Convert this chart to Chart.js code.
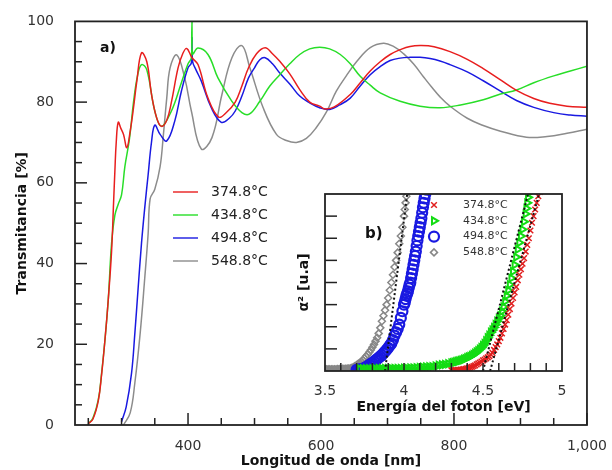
<!DOCTYPE html>
<html>
<head>
<meta charset="utf-8">
<script src="https://cdn.jsdelivr.net/npm/chart.js@4.4.0/dist/chart.umd.min.js"></script>
<style>
  body { margin: 0; background: #fff; }
  #wrap { position: relative; width: 612px; height: 470px; }
  #main { position: absolute; left: 0; top: 0; }
  #inset { position: absolute; left: 296px; top: 186px; }
</style>
</head>
<body>
<div id="wrap">
  <canvas id="main" width="612" height="470"></canvas>
  <canvas id="inset" width="276" height="230"></canvas>
</div>
<script>
// series names
var labels = ["374.8°C", "434.8°C", "494.8°C", "548.8°C"];

// a) transmittance spectra, wavelength [nm] and T [%]
var red_nm = [250,257,265,270,275,280,285,288,290,292,295,299,303,308,313,318,323,330,338,345,353,360,368,375,385,392,398,406,415,430,446,458,471,481,491,503,516,527,538,553,568,583,598,606,620,644,660,674,689,704,719,734,751,770,794,820,844,870,894,920,944,970,1000];
var red_T  = [0.3,1.5,6,12.5,21,31,43,55,63,70,75,73.5,72,68.7,72.8,78.6,85.2,92.2,90,82,76,74,75.5,80,88.5,92,93.3,91,89.3,81,76.3,77.5,80,84,88.5,92,93.5,92,90.1,87,83.1,80,79,78.3,78.8,81.9,85,87.7,90,91.8,93,93.8,94,93.7,92.5,90.6,88.3,85.5,82.9,80.9,79.7,79,78.7];

var green_nm = [250,257,265,270,275,280,285,290,295,300,305,312,318,324,330,338,350,360,375,390,400,405,406,407,415,430,445,466,481,492,508,523,538,553,568,583,598,613,629,644,659,674,689,719,749,779,810,844,870,894,920,950,975,1000];
var green_T  = [0.3,1.7,6.2,12.8,21,31,45,52,54.7,57,64,71,80,86.5,89.3,88,77.8,74,77.8,84.8,89.5,91,100,92,93.4,91.8,86,80.2,77.4,77,80.2,84,86.8,89.5,91.8,93.2,93.6,93.2,91.8,89.5,86.4,84.2,82.3,80.2,79,78.6,79.3,80.6,82,83,84.8,86.5,87.7,88.9];

var blue_nm = [300,307,315,320,325,330,335,340,345,350,358,368,380,390,400,405,406,407,412,420,435,450,462,471,481,491,500,508,516,527,538,553,568,583,598,613,628,644,659,674,689,704,719,734,749,764,779,794,820,844,870,894,920,950,975,1000];
var blue_T  = [0.8,4.5,12.8,22.7,34,45,54,62,70,74.3,72,70.4,75.3,82.7,88.5,89.7,96,90,88,85.2,78.6,75,76,77.8,81.5,86,88.5,90.5,91,89.5,87.2,84.5,81.5,79.8,78.6,78.2,79.3,81,84,86.8,88.8,90.3,90.9,91.1,91.1,90.8,90.2,89.3,87.5,85.3,82.7,80.4,78.7,77.4,76.8,76.5];

var gray_nm = [303,313,320,328,335,340,343,350,358,363,368,373,383,395,405,420,436,451,466,481,493,513,533,548,563,578,593,608,623,638,654,674,694,709,724,739,754,767,779,794,820,844,870,909,940,970,1000];
var gray_T  = [0,3,10.4,22.7,36.6,47.4,56,58.4,64,72,81,88.5,91.7,86,77.8,68.4,71.2,81.9,91,94,88.5,78.6,72,70.5,70,71,73.7,77.5,82.7,86.5,90.1,93.5,94.6,93.8,92,89.5,86.3,83.6,81.3,79,76,74.2,72.8,71.3,71.5,72.3,73.3];

var x_labels = [400, 600, 800, 1000];

// b) alpha^2 vs photon energy [eV]
var red_E = [4.30,4.31,4.32,4.33,4.34,4.35,4.36,4.37,4.38,4.39,4.40,4.41,4.42,4.43,4.44,4.45,4.46,4.47,4.48,4.49,4.50,4.51,4.52,4.53,4.54,4.55,4.56,4.57,4.58,4.59,4.60,4.61,4.62,4.63,4.64,4.65,4.66,4.67,4.68,4.69,4.70,4.71,4.72,4.73,4.74,4.75,4.76,4.77,4.78,4.79,4.80,4.81,4.82,4.83,4.84,4.85,4.86,4.87];
var red_A = [0.03,0.03,0.04,0.04,0.05,0.05,0.06,0.07,0.08,0.1,0.12,0.14,0.16,0.19,0.22,0.25,0.3,0.34,0.38,0.43,0.48,0.52,0.57,0.62,0.67,0.74,0.82,0.95,1.08,1.2,1.35,1.5,1.7,1.9,2.1,2.3,2.55,2.8,3.05,3.3,3.55,3.8,4.1,4.35,4.6,4.85,5.1,5.4,5.7,6.0,6.35,6.7,7.0,7.3,7.6,7.9,8.1,8.3];

var green_E = [3.72,3.74,3.76,3.78,3.80,3.82,3.84,3.86,3.88,3.90,3.92,3.94,3.96,3.98,4.00,4.02,4.04,4.06,4.08,4.10,4.12,4.14,4.16,4.18,4.20,4.22,4.24,4.26,4.28,4.30,4.31,4.32,4.33,4.34,4.35,4.36,4.37,4.38,4.39,4.40,4.41,4.42,4.43,4.44,4.45,4.46,4.47,4.48,4.49,4.50,4.51,4.52,4.53,4.54,4.55,4.56,4.57,4.58,4.59,4.60,4.61,4.62,4.63,4.64,4.65,4.66,4.67,4.68,4.69,4.70,4.71,4.72,4.73,4.74,4.75,4.76,4.77,4.775,4.78,4.785,4.79,4.795];
var green_A = [0.1,0.1,0.1,0.1,0.1,0.1,0.11,0.11,0.11,0.11,0.12,0.12,0.12,0.12,0.13,0.13,0.14,0.14,0.15,0.16,0.17,0.18,0.19,0.2,0.23,0.26,0.28,0.3,0.33,0.36,0.38,0.4,0.42,0.44,0.46,0.48,0.5,0.53,0.56,0.6,0.63,0.66,0.7,0.75,0.8,0.86,0.92,0.99,1.06,1.15,1.25,1.37,1.5,1.62,1.75,1.85,1.97,2.1,2.25,2.38,2.5,2.7,2.9,3.15,3.4,3.65,3.9,4.2,4.5,4.8,5.15,5.5,5.8,6.1,6.4,6.75,7.1,7.35,7.6,7.85,8.05,8.25];

var blue_E = [3.70,3.71,3.72,3.73,3.74,3.75,3.76,3.77,3.78,3.79,3.80,3.81,3.82,3.83,3.84,3.85,3.86,3.87,3.88,3.89,3.90,3.91,3.92,3.93,3.94,3.95,3.96,3.97,3.98,3.99,4.00,4.005,4.01,4.015,4.02,4.025,4.03,4.035,4.04,4.045,4.05,4.055,4.06,4.065,4.07,4.075,4.08,4.085,4.09,4.095,4.10,4.105,4.11,4.115,4.12,4.125,4.13,4.135,4.14];
var blue_A = [0.05,0.06,0.07,0.08,0.1,0.14,0.18,0.22,0.27,0.32,0.37,0.42,0.48,0.54,0.6,0.66,0.72,0.8,0.88,0.96,1.05,1.15,1.25,1.4,1.6,1.75,1.9,2.1,2.4,2.7,3.0,3.1,3.25,3.4,3.5,3.6,3.75,3.9,4.0,4.2,4.4,4.6,4.8,5.0,5.2,5.4,5.65,5.9,6.1,6.3,6.5,6.7,6.9,7.15,7.4,7.6,7.8,8.0,8.2];

var gray_E = [3.50,3.51,3.52,3.53,3.54,3.55,3.56,3.57,3.58,3.59,3.60,3.61,3.62,3.63,3.64,3.65,3.66,3.67,3.68,3.69,3.70,3.71,3.72,3.73,3.74,3.75,3.76,3.77,3.78,3.79,3.80,3.81,3.82,3.83,3.84,3.85,3.86,3.87,3.88,3.89,3.90,3.91,3.92,3.93,3.94,3.95,3.96,3.97,3.98,3.99,4.00,4.005,4.01,4.015,4.02];
var gray_A = [0.08,0.08,0.08,0.08,0.08,0.08,0.08,0.08,0.09,0.09,0.09,0.1,0.1,0.1,0.11,0.11,0.12,0.14,0.18,0.22,0.27,0.32,0.37,0.43,0.5,0.58,0.66,0.75,0.85,0.95,1.07,1.2,1.35,1.5,1.7,1.95,2.25,2.5,2.75,3.0,3.3,3.65,4.0,4.35,4.7,5.0,5.35,5.75,6.1,6.5,7.0,7.3,7.6,7.9,8.2];

// dotted linear fits (E at alpha^2 = 0 and 8)
var fit_gray_E = [3.88, 4.02];
var fit_green_E = [4.50, 4.785];
var fit_red_E = [4.545, 4.855];
var fit_A = [0, 8];

var e_labels = [3.5, 4, 4.5, 5];

var colors = ["rgb(232,30,30)", "rgb(40,222,40)", "rgb(25,25,225)", "rgb(140,140,140)"];

function pts(xs, ys) {
  var out = [];
  for (var i = 0; i < xs.length; i++) out.push({x: xs[i], y: ys[i]});
  return out;
}

Chart.defaults.font.family = "'DejaVu Sans', sans-serif";
Chart.defaults.font.size = 14;
Chart.defaults.color = "#333";

var FONT = "'DejaVu Sans', sans-serif";

function drawFrame(ctx, a) {
  ctx.strokeStyle = "#222";
  ctx.lineWidth = 1.8;
  ctx.strokeRect(a.left, a.top, a.right - a.left, a.bottom - a.top);
}

// main chart decorations: inward ticks, frame, legend, panel label
var mainDecor = {
  id: "mainDecor",
  afterDatasetsDraw: function(chart) {
    var ctx = chart.ctx, a = chart.chartArea;
    var xs = chart.scales.x, ys = chart.scales.y;
    ctx.save();
    ctx.strokeStyle = "#222";
    ctx.lineWidth = 1.5;
    for (var v = 250; v <= 1000; v += 50) {
      var px = xs.getPixelForValue(v);
      var len = v % 200 == 0 ? 12 : 7;
      ctx.beginPath(); ctx.moveTo(px, a.bottom); ctx.lineTo(px, a.bottom - len); ctx.stroke();
    }
    for (var t = 5; t < 100; t += 5) {
      var py = ys.getPixelForValue(t);
      var l2 = t % 20 == 0 ? 12 : 7;
      ctx.beginPath(); ctx.moveTo(a.left, py); ctx.lineTo(a.left + l2, py); ctx.stroke();
    }
    drawFrame(ctx, a);

    chart.data.datasets.forEach(function(ds, i) {
      var y = 192 + i * 23;
      ctx.globalAlpha = 0.7;
      ctx.strokeStyle = ds.borderColor;
      ctx.lineWidth = 2;
      ctx.beginPath(); ctx.moveTo(173, y); ctx.lineTo(198, y); ctx.stroke();
      ctx.globalAlpha = 1;
      ctx.fillStyle = "#222";
      ctx.font = "14px " + FONT;
      ctx.textBaseline = "middle";
      ctx.fillText(ds.label, 211, y);
    });

    ctx.fillStyle = "#111";
    ctx.font = "bold 14px " + FONT;
    ctx.textBaseline = "middle";
    ctx.fillText("a)", 100, 48);
    ctx.restore();
  }
};

var mainChart = new Chart(document.getElementById("main"), {
  type: "line",
  data: {
    datasets: [
      { label: labels[0], data: pts(red_nm, red_T), borderColor: colors[0] },
      { label: labels[1], data: pts(green_nm, green_T), borderColor: colors[1] },
      { label: labels[2], data: pts(blue_nm, blue_T), borderColor: colors[2] },
      { label: labels[3], data: pts(gray_nm, gray_T), borderColor: colors[3] }
    ]
  },
  options: {
    responsive: false,
    animation: false,
    devicePixelRatio: 1,
    layout: { padding: { top: 19, right: 25, left: 0, bottom: 0 } },
    elements: {
      point: { radius: 0 },
      line: { borderWidth: 1.5, tension: 0.4, fill: false }
    },
    plugins: { legend: { display: false }, tooltip: { enabled: false } },
    scales: {
      x: {
        type: "linear", min: 230, max: 1000,
        grid: { display: false }, border: { display: false },
        afterFit: function(s) { s.height = 45; },
        afterBuildTicks: function(s) { s.ticks = x_labels.map(function(v) { return {value: v}; }); },
        ticks: { padding: 5, color: "#333", callback: function(v) { return v.toLocaleString("en-US"); } },
        title: { display: true, text: "Longitud de onda [nm]", color: "#111",
                 font: { weight: "bold", size: 14 }, padding: { top: 0, bottom: 0 } }
      },
      y: {
        min: 0, max: 100,
        grid: { display: false }, border: { display: false },
        afterFit: function(s) { s.width = 75; },
        ticks: { stepSize: 20, padding: 13, color: "#333" },
        title: { display: true, text: "Transmitancia [%]", color: "#111",
                 font: { weight: "bold", size: 14 }, padding: { top: 14, bottom: 0 } }
      }
    }
  },
  plugins: [mainDecor]
});

// inset decorations
var insetDecor = {
  id: "insetDecor",
  afterDatasetsDraw: function(chart) {
    var ctx = chart.ctx, a = chart.chartArea;
    var xs = chart.scales.x, ys = chart.scales.y;
    ctx.save();
    ctx.strokeStyle = "#222";
    ctx.lineWidth = 1.5;
    for (var k = 36; k < 50; k++) {
      var px = xs.getPixelForValue(k / 10);
      ctx.beginPath(); ctx.moveTo(px, a.bottom); ctx.lineTo(px, a.bottom - 8); ctx.stroke();
    }
    for (var t = 1; t < 8; t++) {
      var py = ys.getPixelForValue(t);
      ctx.beginPath(); ctx.moveTo(a.left, py); ctx.lineTo(a.left + 12, py); ctx.stroke();
    }
    drawFrame(ctx, a);

    for (var i = 0; i < 4; i++) {
      var ds = chart.data.datasets[i];
      var y = 19 + i * 15.8;
      ctx.strokeStyle = ds.borderColor;
      ctx.fillStyle = ds.backgroundColor;
      ctx.lineWidth = ds.borderWidth;
      Chart.helpers.drawPoint(ctx, {
        pointStyle: ds.pointStyle, rotation: ds.rotation || 0,
        radius: ds.pointRadius, borderWidth: ds.borderWidth
      }, 138, y);
      ctx.fillStyle = "#333";
      ctx.font = "11px " + FONT;
      ctx.textBaseline = "middle";
      ctx.fillText(ds.label, 167, y);
    }

    ctx.fillStyle = "#111";
    ctx.font = "bold 15px " + FONT;
    ctx.textBaseline = "middle";
    ctx.fillText("b)", 69, 48);
    ctx.restore();
  }
};

var fitStyle = { type: "line", showLine: true, borderColor: "#111", borderWidth: 2,
                 borderDash: [2, 2.5], pointRadius: 0, order: -1 };

var insetChart = new Chart(document.getElementById("inset"), {
  type: "scatter",
  data: {
    datasets: [
      { label: labels[0], data: pts(red_E, red_A), pointStyle: "crossRot", pointRadius: 4,
        borderColor: "rgb(225,30,30)", backgroundColor: "rgba(0,0,0,0)", borderWidth: 1.5 },
      { label: labels[1], data: pts(green_E, green_A), pointStyle: "triangle", rotation: 90, pointRadius: 4,
        borderColor: "rgb(20,220,20)", backgroundColor: "rgba(0,0,0,0)", borderWidth: 2 },
      { label: labels[2], data: pts(blue_E, blue_A), pointStyle: "circle", pointRadius: 5,
        borderColor: "rgb(25,25,225)", backgroundColor: "rgba(0,0,0,0)", borderWidth: 2.2 },
      { label: labels[3], data: pts(gray_E, gray_A), pointStyle: "rectRot", pointRadius: 3.5,
        borderColor: "rgb(135,135,135)", backgroundColor: "rgba(0,0,0,0)", borderWidth: 1.5 },
      Object.assign({ label: "fit1", data: pts(fit_gray_E, fit_A) }, fitStyle),
      Object.assign({ label: "fit2", data: pts(fit_green_E, fit_A) }, fitStyle),
      Object.assign({ label: "fit3", data: pts(fit_red_E, fit_A) }, fitStyle)
    ]
  },
  options: {
    responsive: false,
    animation: false,
    devicePixelRatio: 1,
    layout: { padding: { top: 8, right: 10, left: 0, bottom: 0 } },
    plugins: { legend: { display: false }, tooltip: { enabled: false } },
    scales: {
      x: {
        type: "linear", min: 3.5, max: 5,
        grid: { display: false }, border: { display: false },
        afterFit: function(s) { s.height = 45; },
        afterBuildTicks: function(s) { s.ticks = e_labels.map(function(v) { return {value: v}; }); },
        ticks: { padding: 4, color: "#333", callback: function(v) { return String(v); } },
        title: { display: true, text: "Energía del foton [eV]", color: "#111",
                 font: { weight: "bold", size: 14 }, padding: { top: 0, bottom: 0 } }
      },
      y: {
        min: 0, max: 8,
        grid: { display: false }, border: { display: false },
        afterFit: function(s) { s.width = 29; },
        ticks: { display: false },
        title: { display: true, text: "α² [u.a]", color: "#111",
                 font: { weight: "bold", size: 14 }, padding: { top: 0, bottom: 0 } }
      }
    }
  },
  plugins: [insetDecor]
});
</script>
</body>
</html>
